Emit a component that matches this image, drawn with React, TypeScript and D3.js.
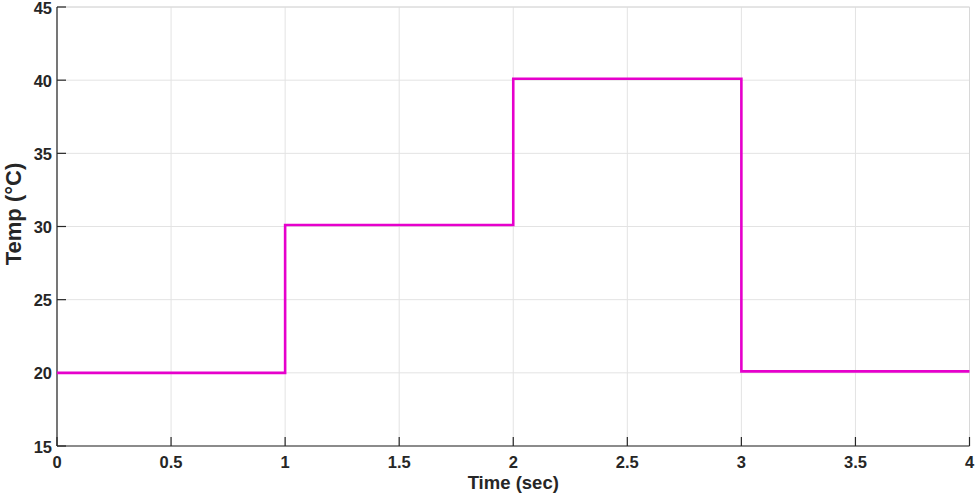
import React from 'react';
import * as d3 from 'd3';

// step signal: temperature held on each 1 sec interval
const times = [0, 1, 1, 2, 2, 3, 3, 4];
const temps = [20, 20, 30.1, 30.1, 40.1, 40.1, 20.1, 20.1];
const xTicks = [0, 0.5, 1, 1.5, 2, 2.5, 3, 3.5, 4];
const yTicks = [15, 20, 25, 30, 35, 40, 45];

const W = 976;
const H = 496;
const m = { left: 57, right: 6.5, top: 7, bottom: 50 };

const App = () => {
  const x = d3.scaleLinear().domain([0, 4]).range([m.left, W - m.right]);
  const y = d3.scaleLinear().domain([15, 45]).range([H - m.bottom, m.top]);
  const line = d3.line<number>()
    .x((_, i) => x(times[i]))
    .y((d) => y(d));

  const font = 'Arial, "Liberation Sans", sans-serif';
  const x0 = x(0), x1 = x(4), y0 = y(15), y1 = y(45);

  return (
    <svg width={W} height={H} style={{ position: 'absolute', left: 0, top: 0, background: '#fff' }}>
      {/* grid */}
      <g stroke="#e3e3e3" strokeWidth={1}>
        {xTicks.map((t) => (
          <line key={'gx' + t} x1={x(t)} x2={x(t)} y1={y0} y2={y1} />
        ))}
        {yTicks.map((t) => (
          <line key={'gy' + t} x1={x0} x2={x1} y1={y(t)} y2={y(t)} />
        ))}
      </g>
      {/* top/right box */}
      <path d={`M${x0},${y1}H${x1}V${y0}`} fill="none" stroke="#d8d8d8" strokeWidth={1} />
      {/* axes */}
      <g stroke="#262626" strokeWidth={1.2}>
        <line x1={x0} x2={x1} y1={y0} y2={y0} />
        <line x1={x0} x2={x0} y1={y0} y2={y1} />
        {xTicks.map((t) => (
          <line key={'tx' + t} x1={x(t)} x2={x(t)} y1={y0} y2={y0 - 9} />
        ))}
        {yTicks.map((t) => (
          <line key={'ty' + t} x1={x0} x2={x0 + 9} y1={y(t)} y2={y(t)} />
        ))}
      </g>
      {/* data */}
      <path d={line(temps) || ''} fill="none" stroke="#e600cc" strokeWidth={2.6} />
      {/* tick labels */}
      <g fontFamily={font} fontWeight="bold" fontSize={16.5} fill="#262626">
        {xTicks.map((t) => (
          <text key={'lx' + t} x={x(t)} y={y0 + 22} textAnchor="middle">{t}</text>
        ))}
        {yTicks.map((t) => (
          <text key={'ly' + t} x={x0 - 5} y={y(t) + 6.5} textAnchor="end">{t}</text>
        ))}
      </g>
      <text x={(x0 + x1) / 2} y={489} textAnchor="middle" fontFamily={font} fontWeight="bold" fontSize={18.5} fill="#262626">
        Time (sec)
      </text>
      <text transform={`translate(21,214) rotate(-90)`} textAnchor="middle" fontFamily={font} fontWeight="bold" fontSize={22} fill="#262626">
        Temp (°C)
      </text>
    </svg>
  );
};

export default App;
